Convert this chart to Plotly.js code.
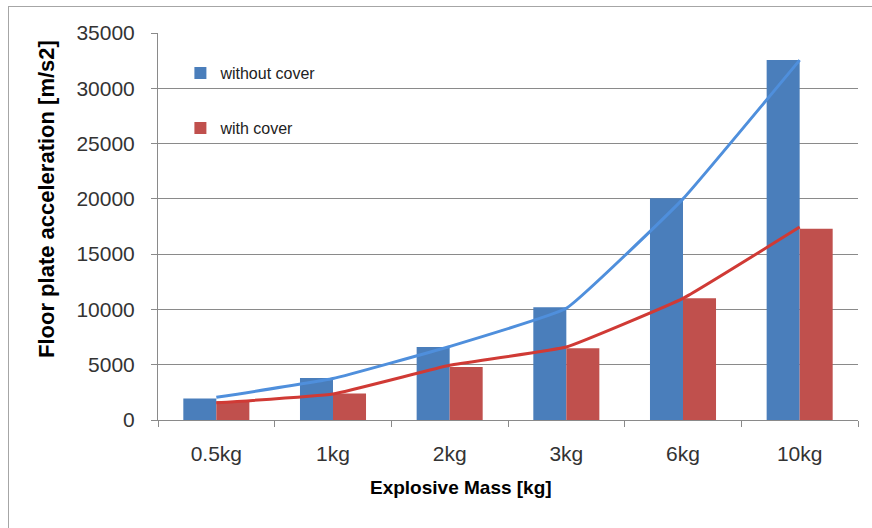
<!DOCTYPE html>
<html>
<head>
<meta charset="utf-8">
<script src="https://cdn.plot.ly/plotly-3.0.1.min.js"></script>
<style>
  html, body { margin: 0; padding: 0; background: #ffffff; overflow: hidden; }
  #frame { position: absolute; left: 8px; top: 6px; width: 900px; height: 600px;
           border-top: 1px solid #a6a6a6; border-left: 1px solid #a6a6a6; }
  #chart { position: absolute; left: 0; top: 0; width: 872px; height: 528px; }
</style>
</head>
<body>
<div id="frame"></div>
<div id="chart"></div>
<script>
const categories = ['0.5kg', '1kg', '2kg', '3kg', '6kg', '10kg'];
const withoutCover = [1950, 3800, 6600, 10200, 20050, 32550];
const withCover = [1700, 2400, 4800, 6480, 11000, 17300];
const withoutCoverTrend = [2050, 3750, 6650, 10100, 20000, 32550];
const withCoverTrend = [1550, 2350, 4950, 6600, 11000, 17450];
const yTicks = [0, 5000, 10000, 15000, 20000, 25000, 30000, 35000];

const traces = [
  { type: 'bar', name: 'without cover', x: categories, y: withoutCover,
    marker: { color: '#4a7ebb' }, legendgroup: 'a' },
  { type: 'bar', name: 'with cover', x: categories, y: withCover,
    marker: { color: '#c0504d' }, legendgroup: 'b' },
  { type: 'scatter', mode: 'lines', x: categories, y: withoutCoverTrend, showlegend: false,
    line: { color: '#4f8fdc', width: 3, shape: 'spline', smoothing: 0.3 }, hoverinfo: 'skip' },
  { type: 'scatter', mode: 'lines', x: categories, y: withCoverTrend, showlegend: false,
    line: { color: '#d03a35', width: 3, shape: 'spline', smoothing: 0.3 }, hoverinfo: 'skip' }
];

const gridColor = '#8a8a8a';
const layout = {
  width: 872, height: 528,
  margin: { l: 158, r: 14, t: 33, b: 108 },
  paper_bgcolor: 'rgba(0,0,0,0)',
  plot_bgcolor: '#ffffff',
  barmode: 'group',
  bargap: 0.434,
  bargroupgap: 0,
  font: { family: 'Liberation Sans, Arial, sans-serif', color: '#404040' },
  showlegend: true,
  legend: {
    x: 0.032, y: 0.94, xanchor: 'left', yanchor: 'top',
    bgcolor: 'rgba(0,0,0,0)', borderwidth: 0,
    font: { size: 16, color: '#222222' },
    traceorder: 'grouped', tracegroupgap: 31
  },
  xaxis: {
    type: 'category',
    showgrid: false, zeroline: false,
    showline: true, linecolor: gridColor, linewidth: 1,
    ticks: 'outside', ticklen: 6, tickcolor: gridColor, tickson: 'boundaries',
    tickfont: { size: 21, color: '#333333' },
    ticklabelstandoff: 15
  },
  yaxis: {
    range: [0, 35000],
    tickvals: yTicks,
    ticktext: yTicks.map(String),
    showgrid: true, gridcolor: gridColor, gridwidth: 1,
    zeroline: false,
    showline: true, linecolor: gridColor, linewidth: 1,
    ticks: 'outside', ticklen: 6, tickcolor: gridColor,
    tickfont: { size: 21, color: '#333333' },
    ticklabelstandoff: 12
  },
  annotations: [
    { text: '<b>Explosive Mass [kg]</b>', xref: 'paper', yref: 'paper',
      x: (461 - 158) / 700, y: (420 - 487) / 387, xanchor: 'center', yanchor: 'middle',
      showarrow: false, font: { size: 19, color: '#000000' } },
    { text: '<b>Floor plate acceleration [m/s2]</b>', xref: 'paper', yref: 'paper',
      x: (47 - 158) / 700, y: (420 - 199) / 387, xanchor: 'center', yanchor: 'middle',
      textangle: -90, showarrow: false, font: { size: 22, color: '#000000' } }
  ]
};

Plotly.newPlot('chart', traces, layout, { displayModeBar: false, staticPlot: true });
</script>
</body>
</html>
